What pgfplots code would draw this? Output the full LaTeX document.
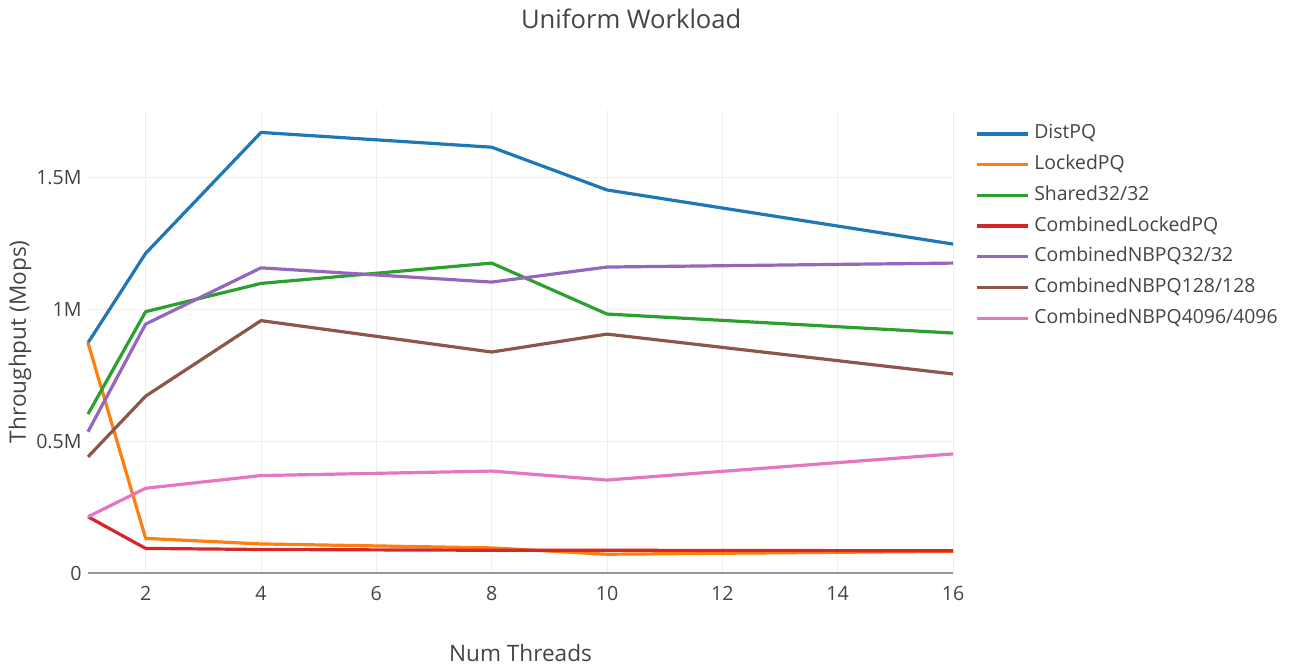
\documentclass[border=0pt]{standalone}
\usepackage{fontspec}
\setmainfont{Open Sans}
\usepackage{pgfplots}
\pgfplotsset{compat=1.18}

\definecolor{txt}{HTML}{444444}
\definecolor{gridc}{HTML}{EEEEEE}
\definecolor{zeroc}{HTML}{999999}
\definecolor{c1}{HTML}{1F77B4}
\definecolor{c2}{HTML}{FF7F0E}
\definecolor{c3}{HTML}{2CA02C}
\definecolor{c4}{HTML}{D62728}
\definecolor{c5}{HTML}{9467BD}
\definecolor{c6}{HTML}{8C564B}
\definecolor{c7}{HTML}{E377C2}

\begin{document}
\begin{tikzpicture}
  \useasboundingbox (0,0) rectangle (645.5pt,332pt);
  \begin{axis}[
    at={(44pt,45.25pt)}, anchor=south west,
    scale only axis,
    width=432.5pt, height=231.75pt,
    xmin=1, xmax=16, ymin=0, ymax=1.756,
    xtick={2,4,6,8,10,12,14,16},
    xticklabels={2,4,6,8,10,12,14,16},
    ytick={0,0.5,1,1.5},
    yticklabels={0,0.5M,1M,1.5M},
    major tick length=0pt,
    /pgf/number format/assume math mode=true,
    grid=major,
    grid style={gridc, line width=0.5pt},
    axis x line*=bottom,
    axis y line*=left,
    x axis line style={zeroc, line width=1pt, -},
    y axis line style={draw=none},
    ticklabel style={font=\fontsize{9.8}{12}\selectfont, text=txt},
    xticklabel style={inner sep=0pt, anchor=center, yshift=-9.75pt},
    yticklabel style={inner sep=0pt, anchor=east, xshift=-3pt},
    title={Uniform Workload},
    every axis title/.style={at={(axis description cs:0.628,1.196)}, anchor=center, inner sep=0pt, font=\fontsize{12.8}{15}\selectfont, text=txt},
    xlabel={Num Threads},
    ylabel={Throughput (Mops)},
    every axis x label/.style={at={(axis description cs:0.5,-0.1715)}, anchor=center, inner sep=0pt, font=\fontsize{11.3}{14}\selectfont, text=txt},
    every axis y label/.style={at={(axis description cs:-0.0786,0.5)}, rotate=90, anchor=center, inner sep=0pt, font=\fontsize{11.3}{14}\selectfont, text=txt},
    legend style={at={(axis description cs:1.026,0.975)}, anchor=north west, draw=none, fill=none,
      font=\fontsize{9.7}{12}\selectfont, text=txt, row sep=3.35pt, inner sep=0pt,
      nodes={inner sep=1pt, text height=7.5pt, text depth=2.5pt}},
    legend cell align=left,
    legend image code/.code={\draw[#1] (0pt,0pt) -- (25pt,0pt); \path (26.6pt,0pt);},
    every axis plot/.append style={line width=1.6pt, line join=round},
    clip=false,
  ]
    \addplot[c1] coordinates {(1,0.874) (2,1.213) (4,1.671) (8,1.615) (10,1.453) (16,1.248)};
    \addplot[c2] coordinates {(1,0.874) (2,0.133) (4,0.112) (8,0.097) (10,0.073) (16,0.084)};
    \addplot[c3] coordinates {(1,0.604) (2,0.992) (4,1.099) (8,1.176) (10,0.983) (16,0.911)};
    \addplot[c4] coordinates {(1,0.215) (2,0.095) (4,0.091) (8,0.088) (10,0.088) (16,0.086)};
    \addplot[c5] coordinates {(1,0.537) (2,0.945) (4,1.158) (8,1.104) (10,1.161) (16,1.176)};
    \addplot[c6] coordinates {(1,0.442) (2,0.672) (4,0.958) (8,0.839) (10,0.907) (16,0.756)};
    \addplot[c7] coordinates {(1,0.215) (2,0.323) (4,0.371) (8,0.388) (10,0.354) (16,0.453)};
    \legend{DistPQ, LockedPQ, Shared32/32, CombinedLockedPQ, CombinedNBPQ32/32, CombinedNBPQ128/128, CombinedNBPQ4096/4096}
  \end{axis}
\end{tikzpicture}
\end{document}
